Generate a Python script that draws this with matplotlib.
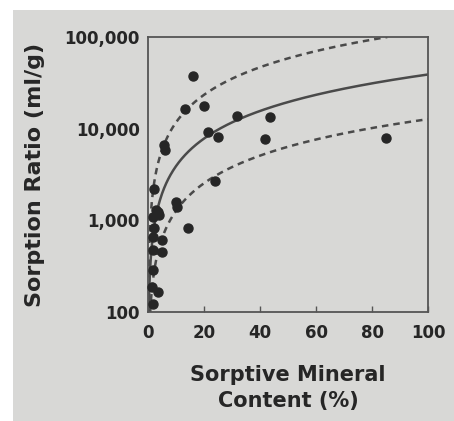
import numpy as np
import matplotlib
matplotlib.use("Agg")
import matplotlib.pyplot as plt
from matplotlib.patches import Rectangle

mineral_pct = [2.1, 3.6, 1.8, 2.1, 1.8, 5.0, 1.8, 5.0, 1.8, 1.4, 3.6, 1.8,
               5.9, 5.7, 10.0, 10.4, 14.3, 16.0, 13.2, 20.0, 21.4, 25.0,
               31.8, 43.6, 41.8, 85.0, 24.0, 3.0, 4.0]
sorption_ratio = [2220, 1240, 1100, 830, 660, 615, 476, 453, 288, 187, 165, 122,
                  5900, 6700, 1600, 1400, 830, 38000, 16300, 17500, 9100, 8200,
                  13600, 13300, 7800, 8000, 2700, 1300, 1150]

# reference lines: ratio = slope * mineral content
line_slopes = [127, 390, 1170]
line_styles = ["--", "-", "--"]

xticks = [0, 20, 40, 60, 80, 100]
yticks = [100, 1000, 10000, 100000]
ytick_labels = ["100", "1,000", "10,000", "100,000"]

bg = "#d8d8d6"
ink = "#262626"

plt.rcParams["font.family"] = ["DejaVu Sans"]
plt.rcParams["font.weight"] = "bold"

fig = plt.figure(figsize=(4.54, 4.21), dpi=100)
fig.patch.set_facecolor("white")
fig.patches.append(Rectangle((13 / 454, 0), 1 - 13 / 454, 411 / 421,
                             transform=fig.transFigure, facecolor=bg,
                             edgecolor="none", zorder=-10))

ax = fig.add_axes([148 / 454, (421 - 312) / 421, 280 / 454, 275 / 421])
ax.set_facecolor(bg)
ax.set_yscale("log")
ax.set_xlim(0, 100)
ax.set_ylim(100, 100000)

for slope, ls in zip(line_slopes, line_styles):
    x0 = 100 / slope
    x1 = min(100, 100000 / slope)
    xs = np.linspace(x0, x1, 400)
    line, = ax.plot(xs, slope * xs, color="#4a4a4a", lw=1.8)
    if ls == "--":
        line.set_dashes((2.6, 2.0))

ax.plot(mineral_pct, sorption_ratio, "o", color=ink, ms=6.5, zorder=3,
        clip_on=False)

ax.set_xticks(xticks)
ax.set_yticks(yticks)
ax.set_yticklabels(ytick_labels)
ax.yaxis.set_minor_locator(matplotlib.ticker.NullLocator())
ax.tick_params(axis="x", direction="in", length=4, width=1, color="#555555",
               labelsize=12, labelcolor=ink, pad=9)
ax.tick_params(axis="y", direction="in", length=0, labelsize=12,
               labelcolor=ink, pad=6)
for s in ax.spines.values():
    s.set_color("#555555")
    s.set_linewidth(1.3)

fig.text(35 / 454, (421 - 175) / 421, "Sorption Ratio (ml/g)", rotation=90,
         ha="center", va="center", fontsize=16, color=ink)
fig.text(288 / 454, (421 - 388) / 421, "Sorptive Mineral\nContent (%)",
         ha="center", va="center", fontsize=15, color=ink, linespacing=1.4)

fig.savefig("out.png", dpi=100, facecolor=fig.get_facecolor())
